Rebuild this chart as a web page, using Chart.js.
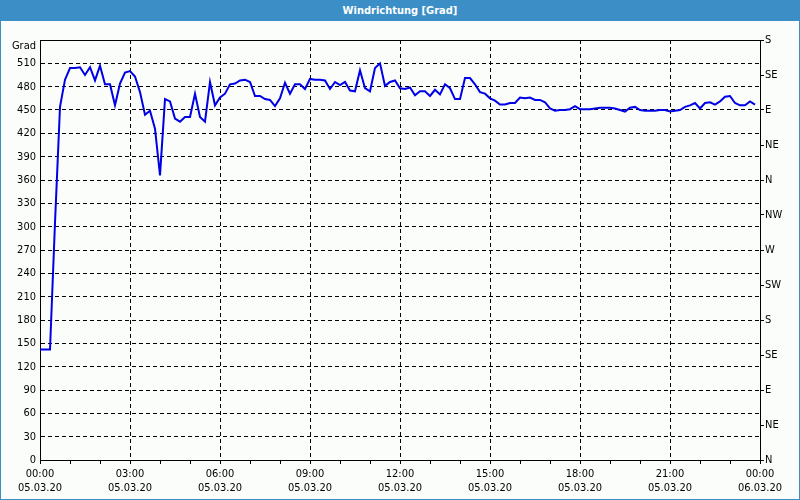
<!DOCTYPE html>
<html><head><meta charset="utf-8">
<script src="https://cdn.jsdelivr.net/npm/chart.js@4/dist/chart.umd.min.js"></script>
<style>
html,body{margin:0;padding:0;background:#fbfdfb;}
#wrap{width:800px;height:500px;position:relative;}
#title{height:21px;background:#3c8fc6;color:#fff;font:bold 11px "DejaVu Sans Condensed","DejaVu Sans",sans-serif;text-align:center;line-height:21px;}
#body{width:800px;height:479px;box-sizing:border-box;border:1px solid #3c8fc6;border-top:none;background:#fbfdfb;}
canvas{display:block;}
</style></head>
<body>
<div id="wrap"><div id="title">Windrichtung [Grad]</div><div id="body"><canvas id="c" width="798" height="478"></canvas></div></div>
<script>
// readings every 10 minutes, starting 05.03.20 00:00
const intervalMinutes = 10;
const windDirection = [
 142,142,142,305,454,489,504,504,505,495,505,488,507,483,483,456,484,498,500,493,
 473,444,449,426,366,464,461,439,435,441,441,471,441,435,486,456,466,471,483,484,
 488,489,486,468,468,464,463,455,465,485,471,483,483,477,490,489,489,488,477,486,
 482,486,475,474,501,478,474,504,510,481,486,488,478,477,479,469,474,474,468,476,
 470,483,478,464,464,491,491,483,473,471,465,462,457,457,459,459,466,465,466,463,
 463,460,452,449,450,450,451,455,451,451,451,452,453,453,453,452,450,448,453,454,
 450,449,449,449,450,450,448,449,450,454,456,459,452,459,460,457,461,467,468,459,
 456,456,461,457
];
const timeLabels = ['00:00','03:00','06:00','09:00','12:00','15:00','18:00','21:00','00:00'];
const dateLabels = ['05.03.20','05.03.20','05.03.20','05.03.20','05.03.20','05.03.20','05.03.20','05.03.20','06.03.20'];
const compassLabels = ['N','NE','E','SE','S','SW','W','NW','N','NE','E','SE','S'];
const yUnitLabel = 'Grad';

const points = windDirection.map((v, i) => ({x: i * intervalMinutes, y: v}));

const FONT = {family: '"DejaVu Sans Condensed","DejaVu Sans",sans-serif', size: 11};

const frame = {
  id: 'frame',
  afterDraw(chart) {
    const {ctx, chartArea: a} = chart;
    ctx.save();
    ctx.strokeStyle = '#000';
    ctx.lineWidth = 1;
    ctx.beginPath();
    ctx.moveTo(Math.round(a.left) + 0.5, Math.round(a.top) + 0.5);
    ctx.lineTo(Math.round(a.right) + 0.5, Math.round(a.top) + 0.5);
    ctx.stroke();
    // unit label at top of the left axis
    ctx.fillStyle = '#000';
    ctx.font = '11px "DejaVu Sans Condensed","DejaVu Sans",sans-serif';
    ctx.textAlign = 'right';
    ctx.textBaseline = 'middle';
    ctx.fillText(yUnitLabel, a.left - 4, a.top + 6);
    ctx.restore();
  }
};

new Chart(document.getElementById('c'), {
  type: 'line',
  data: {
    datasets: [{
      data: points,
      borderColor: '#0000e6',
      borderWidth: 2,
      pointRadius: 0,
      tension: 0,
      fill: false
    }]
  },
  options: {
    responsive: false,
    animation: false,
    devicePixelRatio: 1,
    layout: {padding: {top: 19, left: 0, right: 0, bottom: 0}},
    plugins: {legend: {display: false}, tooltip: {enabled: false}, title: {display: false}},
    scales: {
      x: {
        type: 'linear',
        min: 0, max: 1440,
        afterBuildTicks(scale) {
          const t = [];
          for (let m = 0; m <= 1440; m += 60) t.push({value: m});
          scale.ticks = t;
        },
        afterFit(scale) { scale.height = 39; },
        grid: {
          color: (c) => (c.tick && c.tick.value % 180 === 0) ? '#000' : 'rgba(0,0,0,0)',
          tickColor: '#000',
          tickLength: 4,
          lineWidth: 1
        },
        border: {display: true, color: '#000', width: 1, dash: [4, 3]},
        ticks: {
          autoSkip: false,
          maxRotation: 0,
          color: '#000',
          font: FONT,
          padding: 4,
          callback(value) {
            if (value % 180 !== 0) return '';
            const k = value / 180;
            return [timeLabels[k], dateLabels[k]];
          }
        }
      },
      y: {
        position: 'left',
        min: 0, max: 540,
        afterBuildTicks(scale) {
          const t = [];
          for (let v = 0; v <= 540; v += 30) t.push({value: v});
          scale.ticks = t;
        },
        afterFit(scale) { scale.width = 39; },
        grid: {color: '#000', drawTicks: false, lineWidth: 1},
        border: {display: true, color: '#000', width: 1, dash: [4, 3]},
        ticks: {
          color: '#000',
          font: FONT,
          padding: 4,
          callback(value) { return value === 540 ? '' : String(value); }
        }
      },
      y2: {
        position: 'right',
        min: 0, max: 540,
        afterBuildTicks(scale) {
          const t = [];
          for (let v = 0; v <= 540; v += 45) t.push({value: v});
          scale.ticks = t;
        },
        afterFit(scale) { scale.width = 39; },
        grid: {drawOnChartArea: false, color: '#000', tickLength: 4},
        border: {display: true, color: '#000', width: 1},
        ticks: {
          color: '#000',
          font: FONT,
          padding: 1,
          callback(value) { return compassLabels[value / 45]; }
        }
      }
    }
  },
  plugins: [frame]
});
</script>
</body></html>
